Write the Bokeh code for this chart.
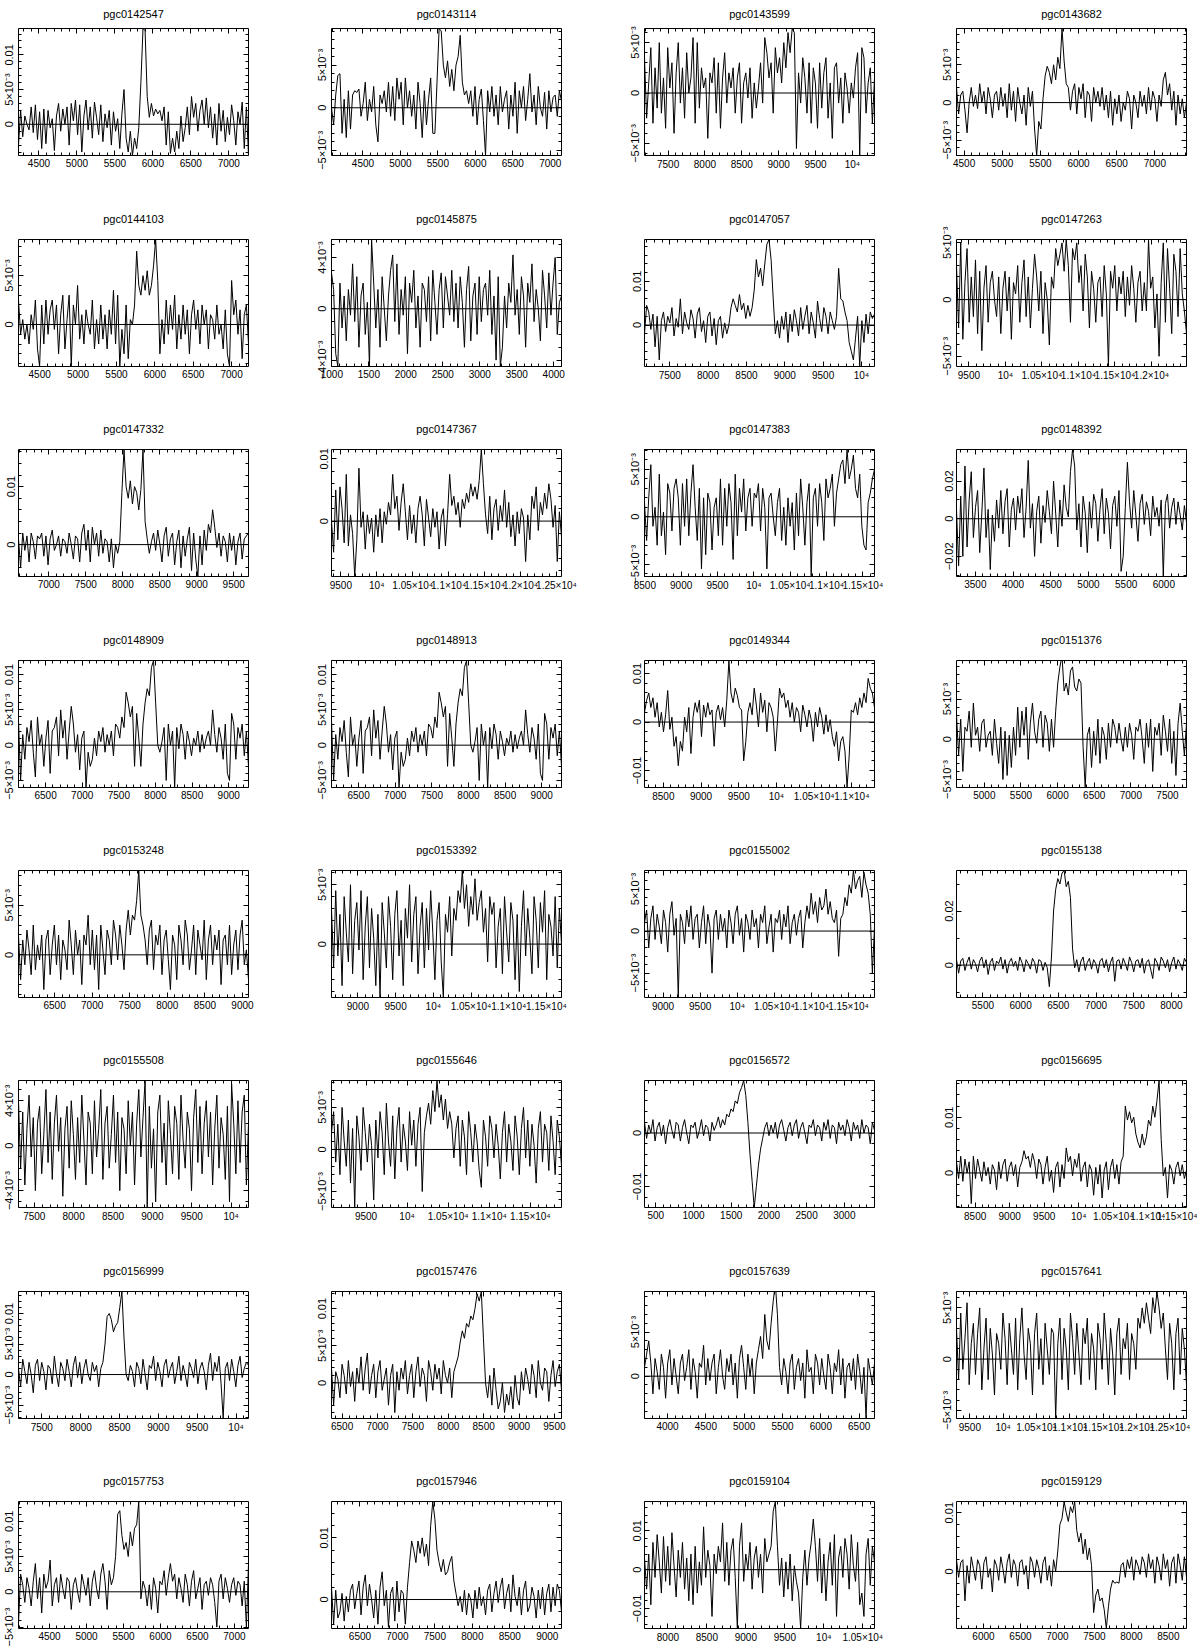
import math
from bokeh.plotting import figure
from bokeh.layouts import gridplot
from bokeh.models import LinearAxis, FixedTicker, Span, Range1d
from bokeh.embed import file_html
from bokeh.resources import INLINE

# ---------------- data ----------------
names = ["pgc0142547", "pgc0143114", "pgc0143599", "pgc0143682",
         "pgc0144103", "pgc0145875", "pgc0147057", "pgc0147263",
         "pgc0147332", "pgc0147367", "pgc0147383", "pgc0148392",
         "pgc0148909", "pgc0148913", "pgc0149344", "pgc0151376",
         "pgc0153248", "pgc0153392", "pgc0155002", "pgc0155138",
         "pgc0155508", "pgc0155646", "pgc0156572", "pgc0156695",
         "pgc0156999", "pgc0157476", "pgc0157639", "pgc0157641",
         "pgc0157753", "pgc0157946", "pgc0159104", "pgc0159129"]

# velocity window of each spectrum (km/s)
vel_lo = [4230, 4080, 7180, 4400, 4224, 995, 7170, 9330,
          6590, 9370, 8495, 3250, 6130, 6130, 8250, 4620,
          6020, 8650, 8750, 5150, 7300, 9080, 350, 8230,
          7200, 6350, 3700, 9300, 4080, 6120, 7700, 5635]
vel_hi = [7260, 7150, 10300, 7415, 7220, 4105, 10170, 12480,
          9700, 12570, 11660, 6300, 9270, 9270, 11300, 7760,
          9080, 11700, 11850, 8200, 10220, 11880, 3400, 11560,
          10160, 9600, 6700, 12750, 7190, 9190, 10650, 8745]

# flux axis limits (units of 1e-4 Jy)
flux_lo = [-45, -56, -62, -70, -43, -45, -95, -59,
           -55, -89, -63, -307, -60, -60, -135, -60,
           -43, -45, -79, -120, -55, -69, -139, -62,
           -72, -48, -48, -58, -52, -47, -151, -97]
flux_hi = [138, 93, 64, 98, 87, 54, 196, 53,
           164, 115, 71, 368, 120, 120, 127, 98,
           85, 62, 72, 350, 58, 82, 98, 166,
           136, 123, 96, 66, 128, 159, 175, 119]
flux_tick_step = [50, 50, 50, 50, 50, 40, 100, 50,
                  100, 100, 50, 200, 50, 50, 100, 50,
                  50, 50, 50, 200, 40, 50, 100, 100,
                  50, 50, 50, 50, 50, 100, 100, 100]

flux_labels = {-200: "\u22120.02", -100: "\u22120.01", -50: "\u22125\u00d710\u207b\u00b3",
               -40: "\u22124\u00d710\u207b\u00b3", 0: "0", 40: "4\u00d710\u207b\u00b3",
               50: "5\u00d710\u207b\u00b3", 100: "0.01", 200: "0.02"}
vel_labels = {10000: "10\u2074", 10500: "1.05\u00d710\u2074", 11000: "1.1\u00d710\u2074",
              11500: "1.15\u00d710\u2074", 12000: "1.2\u00d710\u2074", 12500: "1.25\u00d710\u2074"}

# spectra (flux in units of 1e-4 Jy, evenly spaced channels over the window)
flux_pgc0142547 = [-30, 20, -18, 12, 0, -8, 25, -12, 28, -22,
                   18, -35, 22, -28, 20, -5, 8, -38, 12, 30,
                   -10, 22, 0, 25, -30, 30, 5, 35, -15, 28,
                   -40, 12, 35, -8, 25, -20, 32, 10, -15, 28,
                   -25, 15, -5, 20, -30, 18, -10, 8, -35, 15,
                   50, -20, -40, -10, -45, -20, -35, -5, 60, 138,
                   135, 40, 10, 30, 12, 22, 15, 20, 5, 25,
                   -30, 18, -42, -20, -40, -10, -35, 12, -25, -5,
                   25, -15, 40, 10, 30, -10, 20, 35, 0, 38,
                   -5, 25, -20, 15, -30, 30, -10, 20, -25, 10,
                   -15, 28, 5, -30, 18, 0, 32, -35, 25, -45]
flux_pgc0143114 = [0, -20, 15, 38, 40, -30, 10, -35, 20, -25,
                   15, 20, 18, 22, -10, 5, 30, -15, 10, -5,
                   25, -20, -40, 15, 5, 20, -5, 30, -10, 25,
                   -15, 35, 10, 30, -20, 35, 0, 20, -10, 15,
                   -25, 30, 5, -35, 20, -20, 10, 35, -30, -30,
                   30, 93, 90, 50, 35, 55, 25, 45, 20, 50,
                   60, 85, 30, 15, 20, 5, 20, -10, 25, -20,
                   10, 22, -15, -56, 20, -5, 25, -10, 15, -20,
                   25, -5, 10, 20, -25, 15, -10, 30, -30, 20,
                   0, 25, -15, 10, 40, -5, 15, -20, 25, 0,
                   -10, 18, -25, 20, -5, 12, 15, -10, 20, 8]
flux_pgc0143599 = [35, -25, 10, 45, -30, 25, -15, 50, -20, 15,
                   -35, 45, 5, 30, -40, 20, 50, -10, 25, -25,
                   40, 0, 15, 55, -30, 50, -15, 25, 5, 15,
                   -45, 20, 10, 35, -20, 30, -35, 15, 40, -10,
                   20, 5, 25, -20, 15, 30, -30, 10, 20, -5,
                   25, -25, 10, -15, 5, 30, -10, 55, 40, 15,
                   30, -20, 45, 20, 35, 10, 50, 25, 60, 40,
                   64, 60, -55, 20, -10, 35, 15, -20, 30, -30,
                   25, 10, -35, 30, -15, 20, 35, -25, 10, -45,
                   25, 30, -10, 15, -30, 20, 5, -20, 10, -5,
                   25, 40, -62, 45, 35, -20, 10, 25, -30, 15]
flux_pgc0143682 = [20, -15, 10, 15, -10, -40, 0, 20, -5, 10,
                   -8, 25, 0, 15, -15, 20, 5, -20, 10, 15,
                   -10, 20, -5, 12, -20, 25, -10, 15, -25, 20,
                   0, -15, 10, -30, 20, -5, 15, -35, -70, -25,
                   -35, 5, 35, 48, 40, 25, 50, 30, 60, 45,
                   98, 55, 25, 20, -10, 15, 25, -15, 20, 5,
                   25, -20, 15, 10, -25, 20, 0, 15, -5, 20,
                   -10, 10, -20, 15, -30, 5, -15, 10, -25, 0,
                   -10, 15, 5, -35, 10, 0, -20, 15, -5, 10,
                   -15, 20, -10, 15, 5, -25, 10, -5, 30, 40,
                   10, 25, -10, 15, -30, 10, -15, 5, -20, 0]
flux_pgc0144103 = [25, -10, 5, -15, 0, -20, 10, -5, 25, -25,
                   -43, 20, -20, 25, -10, 15, 25, -5, 20, -30,
                   10, 30, -25, 5, 30, -43, 20, 0, 40, -15,
                   10, -20, 15, 0, -10, 25, -25, 5, -20, 20,
                   -15, 10, -25, 15, -10, 35, -20, 30, -43, -5,
                   -30, 20, -35, 5, 0, 20, 75, 40, 30, 50,
                   35, 55, 30, 40, 60, 87, 45, -30, 5, -20,
                   25, -10, 20, -5, 30, -25, 10, -15, 20, -10,
                   15, -30, 10, 25, -5, 15, -20, 20, 0, 15,
                   -25, 10, 5, -15, 20, -10, 0, -25, 15, -30,
                   -43, 45, 10, 25, -10, 15, -35, 10, 20, -20]
flux_pgc0145875 = [28, 15, -35, -45, 20, -15, 10, -25, 15, -5,
                   35, -10, 25, -30, 10, 20, -20, 5, -45, 54,
                   20, -15, 15, -30, 25, 0, -25, 10, 30, 42,
                   -10, 35, -20, 15, -5, 25, -35, 20, 5, 30,
                   -15, 10, -30, 20, 15, -10, 25, -25, 30, 5,
                   -20, 15, 28, -15, 25, 10, -5, 30, -10, 20,
                   -15, 25, 5, -30, 15, 33, -25, 10, 20, -20,
                   25, -10, 15, 20, -5, 30, -20, 10, -40, 25,
                   -45, -30, 10, -15, 20, 5, 42, -5, 15, -20,
                   25, 10, -30, 20, 5, 35, -10, 15, 0, -25,
                   30, 10, -15, 28, -5, 20, 40, -20, 5, 10]
flux_pgc0147057 = [-20, 45, 30, -10, 25, -50, 20, -80, 10, 30,
                   -15, 20, 5, 40, -25, 15, -5, 60, -20, 30,
                   5, -10, 35, 15, -30, 25, 40, -15, 10, -40,
                   20, 30, -25, 15, -45, 10, 20, -30, 5, -20,
                   0, 40, 60, 45, 30, 70, 35, 50, 15, 45,
                   20, 40, 80, 150, 110, 130, 90, 140, 185, 196,
                   150, 60, -20, 10, -30, 20, -10, 30, -40, 25,
                   -15, 35, 10, -25, 40, -10, 20, 45, -20, 30,
                   5, -30, 55, 15, -15, 40, 20, -20, 30, 10,
                   -10, 20, 130, 60, 55, 30, 10, -40, -60, -80,
                   -30, 20, -95, 10, -40, 25, -20, 30, 15, 25]
flux_pgc0147263 = [30, -25, 50, -35, 15, 45, -20, 20, -15, 35,
                   -30, 25, -45, 10, 30, -20, 15, 25, 0, -15,
                   20, -30, 10, 25, -10, 20, -35, 15, 5, 30,
                   -20, 15, 35, -15, 20, -25, 10, 40, 20, -10,
                   25, -30, 15, 0, -40, 20, 10, 45, 30, 40,
                   50, 25, 53, 30, -20, 45, 35, 50, 15, 30,
                   -10, 40, 20, -25, 25, 10, -20, 15, 20, -15,
                   30, 5, -59, 25, 10, 30, -10, 20, 5, 25,
                   -15, 20, -5, 30, 10, -20, 15, 25, -10, 15,
                   -10, 53, 10, 20, -25, 5, -50, 15, 50, -20,
                   45, 10, -30, 40, 25, -15, 45, 5, -10, -30]
flux_pgc0147332 = [10, -40, 20, -10, 15, -30, 20, 5, -25, 15,
                   10, 20, -20, 15, -35, 10, 25, -10, 0, 15,
                   -20, 10, 5, -15, 20, 0, -25, 15, 10, -30,
                   20, 35, -10, 25, -30, 30, 0, 20, -20, 25,
                   -15, 10, 5, -30, 10, -40, 0, -15, 5, 90,
                   164, 100, 80, 110, 70, 100, 90, 60, 95, 164,
                   40, 10, -15, 5, 20, -10, 25, 0, -30, 15,
                   30, -20, 10, 20, -35, 5, 25, -40, 15, -20,
                   10, 30, -45, 20, -25, -55, 15, -35, 25, -10,
                   35, 20, 60, 30, -5, 20, -20, 15, 5, -30,
                   20, -10, 15, -35, 5, 20, -25, 10, 15, 20]
flux_pgc0147367 = [0, -50, 50, -30, 55, 20, -35, 75, -40, 10,
                   -20, -89, -30, 85, -10, 15, -45, 10, -20, 5,
                   -50, 10, -25, 20, -35, 15, -5, 30, 10, 75,
                   20, 40, -15, 30, 60, 15, -30, 25, -20, 10,
                   -35, 20, 40, 10, -40, 35, 5, -25, 20, -10,
                   15, -45, 5, 20, -40, 10, 75, 25, 40, 10,
                   30, -10, 35, 20, 45, 30, 60, 40, 55, 35,
                   65, 115, 60, 10, -20, 40, -30, 20, 35, -15,
                   25, 0, 50, -10, 30, -25, 10, -40, 15, -20,
                   20, 5, -65, 10, -30, 40, 20, 55, -15, 30,
                   10, 45, 20, 60, 35, -10, 25, -65, 15, -25]
flux_pgc0147383 = [15, -25, 20, 55, -10, 10, -30, 45, -20, 5,
                   -40, 35, 25, -15, 30, 40, 20, -30, 35, -10,
                   40, -20, 25, 55, 10, -25, 30, -55, 20, -40,
                   25, 15, -35, 10, 20, -20, 40, -30, 30, -10,
                   35, 15, -45, 45, -20, 30, 5, 40, -15, 20,
                   30, -10, 25, 20, 35, -15, 30, 10, -55, 20,
                   25, 0, -20, 15, 30, -25, 10, -30, 20, -10,
                   15, -35, 25, -20, 40, 10, -30, 15, 35, -63,
                   20, 30, -10, 35, 15, -25, 40, 20, 30, 45,
                   -10, 25, 40, 55, 60, 35, 71, 40, 50, 65,
                   30, 20, 45, -10, -30, -35, 15, 25, 40, 50]
flux_pgc0148392 = [50, -250, 120, -200, 280, -150, 100, 250, -100, 60,
                   150, -180, 30, 270, -100, 50, -270, 20, -120, 100,
                   -50, 150, -80, 90, 160, -150, 50, 110, -60, 120,
                   30, 160, -100, 60, 310, -50, 80, -200, 40, 120,
                   -130, 70, -20, 150, 40, -80, 200, 30, -150, 100,
                   -40, 180, 60, 10, 250, 368, 280, -60, 80, -150,
                   120, 30, -180, 90, -50, 130, 80, -120, 50, 160,
                   -80, 110, 30, -160, 70, 120, -40, 150, -280, -200,
                   60, 300, 90, -50, 150, 20, -120, 80, 130, -30,
                   90, 40, -90, 120, 10, 60, -40, 100, -307, 80,
                   130, -50, 60, 110, -30, 90, 20, -60, 70, -20]
flux_pgc0148909 = [35, -50, 15, -20, 25, 5, 35, -10, -45, 40,
                   0, 15, -30, 10, 35, -40, 20, 25, 40, -15,
                   50, 10, 35, -20, 20, 55, 30, -10, 15, -35,
                   10, 20, -60, -10, -30, -20, 10, -15, 20, 5,
                   25, -10, 15, 0, 20, -15, 30, 25, 10, 40,
                   25, 75, 60, 40, 55, -30, 45, 10, -30, 30,
                   60, 80, 70, 110, 120, 60, 0, -10, 5, 25,
                   -50, 30, 0, 20, -60, 25, -5, 30, 15, -20,
                   20, 5, -15, 10, 0, 20, -10, 15, -5, 10,
                   20, 0, 50, 15, -10, 25, 10, -20, 30, -40,
                   -50, 45, 30, -20, 25, 10, 30, -15, 20, -30]
flux_pgc0148913 = list(flux_pgc0148909)
flux_pgc0149344 = [20, 45, 60, 30, 50, 10, 40, -10, 20, -20,
                   15, 65, -15, 10, -50, -30, -90, -40, -60, 10,
                   -20, 30, -65, 10, 40, 20, 45, -30, 35, 10,
                   40, 15, 25, -50, 20, 35, 5, 30, -10, 45,
                   127, 60, 40, 70, 55, 30, 25, -80, -40, 20,
                   40, 15, 70, 35, -10, 60, 20, 45, -20, 40,
                   30, 10, -60, 0, 70, 50, 60, 30, 45, 10,
                   40, 0, 30, 20, -20, 35, 15, -10, 25, 5,
                   -40, 20, -10, 30, 10, -25, 15, -20, 5, -30,
                   -50, -20, -80, -40, -30, -60, -135, -70, 25, 20,
                   40, 15, 50, 30, 60, 40, 90, 70, 60, 30]
flux_pgc0151376 = [30, -20, 25, -40, 15, 10, 35, -10, 45, 5,
                   15, -15, 20, 25, -10, 5, 10, -20, 25, -5,
                   -30, 15, -50, 10, -45, 5, -35, 15, -20, 40,
                   -10, 35, 5, 40, -25, 20, 45, 10, -5, 25,
                   35, -10, 30, 20, -15, 25, -10, 35, 70, 90,
                   104, 60, 70, 55, 85, 90, 65, 60, 75, 70,
                   -10, -60, 5, 15, -35, 10, -20, 25, -30, 15,
                   5, -25, 20, -10, 25, 15, -5, 20, 0, -15,
                   15, -10, 20, 5, -25, 15, 10, 25, 0, -30,
                   20, -10, 25, -40, 15, 5, 20, -20, 30, 10,
                   -15, 25, -30, 10, -45, 20, 45, 10, -20, 20]
flux_pgc0153248 = [20, -25, 15, -10, 25, 5, -20, 30, -15, 10,
                   -5, 20, -35, 15, 25, -20, 10, 30, -10, 20,
                   -25, 15, 5, -15, 35, 10, -20, 25, 0, 15,
                   -30, 20, 10, 40, -10, 25, -15, 20, -35, 30,
                   5, -20, 25, 15, -10, 35, 20, -5, 30, 10,
                   -15, 25, 45, 20, 40, 35, 55, 85, 40, 30,
                   15, -10, 25, 35, -15, 20, 10, 30, -20, 15,
                   25, -5, -35, 20, 10, -25, 30, 15, -10, 35,
                   20, -15, 5, 30, -20, 25, 10, -5, 35, -25,
                   15, 30, -10, 20, 5, 25, -30, 15, 20, -10,
                   30, -20, 10, 25, -15, 20, 35, -10, 5, -25]
flux_pgc0153392 = [30, -20, 45, -10, 25, -35, 40, 10, -15, 50,
                   -25, 20, 35, -5, 45, -30, 15, 40, -20, 30,
                   5, -35, 25, -45, 35, 10, -20, 40, 15, -30,
                   25, 45, -10, 20, -35, 30, 5, 50, -15, 25,
                   40, -25, 15, 35, -20, 30, -5, 45, 10, -30,
                   20, 35, -15, -45, 25, 10, 40, -10, 30, 20,
                   45, 35, 62, 30, 50, 15, 40, 25, 55, 20,
                   35, 45, 10, 30, -15, 40, 25, 35, -20, 15,
                   30, -25, 40, 10, -15, 35, 20, -30, 25, -40,
                   15, 45, -10, 30, 5, -25, 40, 20, -20, 35,
                   10, 45, -30, 25, 15, -10, 40, -20, 30, 0]
flux_pgc0155002 = [10, 25, -20, 15, 30, -10, 20, 5, -15, 25,
                   10, -25, 20, 35, -5, 15, -79, 20, 10, -15,
                   25, 5, 30, -10, 15, 20, -20, 10, 30, -15,
                   20, 5, -50, 15, 25, -10, 20, 0, 15, -20,
                   25, 10, -15, 20, 30, -5, 15, -25, 20, 10,
                   -10, 25, 5, 15, -20, 20, 10, 30, -15, 5,
                   20, -25, 15, 10, 25, -10, 20, 5, 30, -15,
                   10, 20, -5, 15, 25, -20, 10, 30, 15, 45,
                   20, 35, 10, 40, 25, 30, 50, 20, 35, 15,
                   10, 25, -30, 15, 20, 40, 30, 55, 45, 72,
                   50, 60, 65, 40, 70, 55, 45, 20, -50, 5]
flux_pgc0155138 = [20, -30, 15, 25, -20, 10, 30, -15, 20, 5,
                   -25, 15, 30, -10, 20, -35, 10, 25, -20, 15,
                   5, 30, -15, 20, -30, 10, 25, -5, 15, -20,
                   30, 10, -25, 20, 5, -15, 25, 10, -30, 20,
                   15, -20, 10, -10, -80, 30, 200, 280, 320, 300,
                   340, 350, 290, 310, 250, 60, -10, 20, -25, 15,
                   30, -20, 10, 25, -15, 20, 5, -30, 15, 25,
                   -10, 20, -25, 10, 30, -60, 15, 20, -15, 25,
                   5, -20, 30, 10, -25, 15, 20, -10, 25, -30,
                   10, 20, -15, -50, 25, 10, -20, 30, 15, -10,
                   20, -25, 10, 30, -15, 20, 5, -20, 25, 10]
flux_pgc0155508 = [40, -20, 30, -35, 15, 45, -10, 25, -40, 20,
                   35, -25, 10, 50, -15, 30, -30, 20, 45, -5,
                   25, -45, 15, 35, -20, 40, 10, -30, 25, -15,
                   45, 5, -35, 30, 20, -25, 40, -10, 15, 50,
                   -30, 20, 35, -20, 10, 45, -15, 30, -40, 25,
                   15, -25, 40, 0, 30, -35, 20, 50, -10, 25,
                   58, -55, 35, -20, 15, -50, 30, 45, -15, 20,
                   -35, 40, 10, -25, 35, 20, -30, 45, 5, -20,
                   30, 15, -40, 25, 50, -15, 35, -25, 20, 40,
                   -10, 30, -35, 15, 45, -20, 25, 10, -30, 35,
                   -50, 55, 20, -25, 40, -15, 30, 45, -35, 20]
flux_pgc0155646 = [20, 45, -15, 30, -30, 50, 10, -20, 35, -40,
                   25, -69, 40, 15, -25, 50, 20, -15, 30, 5,
                   -60, 35, -10, 45, 20, -30, 55, 10, -20, 40,
                   -35, 25, 50, -15, 30, 10, -25, 45, 5, 35,
                   -20, 30, 50, -50, 20, 40, 55, 30, 70, 45,
                   82, 50, 65, 35, 60, 25, 45, 30, -10, 25,
                   40, -20, 35, 15, -30, 45, 20, -15, 30, 10,
                   -25, -45, 35, 15, -20, 40, 25, -10, 30, 5,
                   -35, 20, 45, -15, 30, 10, -25, 40, 15, -30,
                   25, 50, -10, 35, -20, 30, 5, -40, 25, 45,
                   -15, 30, 20, -25, 40, 10, -30, 35, 15, -20]
flux_pgc0156572 = [20, -10, 15, 0, 25, -15, 10, 20, -5, 15,
                   -20, 10, 25, 5, -10, 20, 15, -15, 10, 25,
                   0, -20, 15, 10, 20, -10, 5, 25, -5, 15,
                   10, -15, 20, 5, 15, 30, 10, 25, 15, 35,
                   30, 45, 40, 60, 55, 75, 85, 98, 70, 20,
                   -40, -90, -139, -100, -60, -30, -10, 10, 20, -5,
                   15, 0, 20, -10, 15, 25, 5, -15, 10, 20,
                   -5, 15, 25, -10, 10, 20, 0, -20, 15, 10,
                   25, -5, 15, 10, -15, 20, 5, 25, -10, 15,
                   10, -20, 20, 5, 15, -5, 25, 10, -15, 20,
                   5, 15, -10, 25, 0, 15, 10, -20, 20, 5]
flux_pgc0156695 = [20, -10, 30, -15, 25, 0, 20, -55, 30, -10,
                   25, 5, -15, 20, -5, 10, -20, 15, 5, -30,
                   20, -10, 15, 25, -15, 10, 20, -5, 15, -25,
                   10, 20, 40, 25, 30, 10, 35, 20, -10, 25,
                   15, -20, 10, 30, -15, 5, -35, 10, 20, -25,
                   15, -10, 45, 20, 30, -5, 25, 10, 35, -15,
                   10, 20, -25, 15, 5, -40, 10, -20, 15, -45,
                   5, 20, -30, 10, 25, -10, 15, -20, 20, 30,
                   120, 95, 110, 90, 100, 70, 55, 45, 70, 50,
                   65, 95, 85, 120, 100, 130, 166, 60, -5, 10,
                   -45, 15, 5, -20, 10, 20, -5, 15, -10, 5]
flux_pgc0156999 = [10, -20, 25, 5, -15, 20, 0, -30, 15, 25,
                   -10, 20, 5, -25, 15, 10, -15, 30, 0, -20,
                   20, 10, -10, 25, 5, -20, 15, 30, -5, 20,
                   -15, 10, 25, 0, -10, 20, 5, 15, -20, 10,
                   20, 50, 95, 100, 90, 70, 80, 85, 110, 136,
                   60, 0, -10, 15, 5, -20, 20, 10, -15, 25,
                   0, -25, 15, 10, 30, -10, 20, 5, -20, 15,
                   25, -5, 10, 20, -15, 5, 30, -10, 15, 0,
                   -20, 20, 10, -5, 25, -15, 10, 20, 5, -25,
                   15, 35, -10, 20, 5, 30, -15, -72, 10, 20,
                   -10, 25, 5, -20, 15, 30, -5, 10, 20, 15]
flux_pgc0157476 = [20, -30, 15, 5, -20, 25, 10, -15, 30, -5,
                   15, -25, 20, 0, 35, -10, 20, 40, -15, 10,
                   25, -20, 15, 30, -10, 5, 20, -30, 10, 25,
                   -40, 15, -10, 20, 5, 30, -15, 10, 25, -20,
                   15, 35, -5, 20, 10, -25, 30, 15, -10, 25,
                   5, 20, -15, 30, 10, 0, 20, -20, 15, 25,
                   35, 55, 70, 60, 80, 75, 90, 85, 100, 120,
                   110, 123, 60, 0, -20, 10, -30, 20, -10, -35,
                   -25, 0, -40, -15, -30, -5, -35, 10, -20, -30,
                   15, -10, 20, 5, -15, 25, 10, -20, 30, 0,
                   -10, 20, 15, -25, 10, 30, -5, 15, 25, -10]
flux_pgc0157639 = [10, 25, 40, 15, -20, 20, 5, -15, 25, 10,
                   -25, 15, 30, -10, 20, 0, -20, 15, 25, -5,
                   10, 30, -15, 20, 5, -25, 15, 10, 35, -10,
                   20, -5, 15, 25, -20, 10, 30, 0, -15, 20,
                   5, 25, -10, 15, -25, 20, 35, 10, -15, 25,
                   0, 20, -20, 15, 30, 45, 20, 70, 40, 30,
                   60, 85, 105, 70, 10, -10, 20, 5, -20, 15,
                   25, -15, 10, 20, -5, 15, -25, 30, 5, 10,
                   -20, 25, 15, -10, 20, 0, -15, 25, 10, -20,
                   15, 5, 30, -10, 20, -25, 10, 15, -5, 20,
                   -15, 25, 5, -20, 10, -48, 20, 5, -10, 15]
flux_pgc0157641 = [30, -20, 45, -10, 20, 55, -25, 15, 35, -15,
                   25, 50, -30, 10, 40, -20, 30, 5, -35, 25,
                   15, -10, 45, 20, -25, 35, 10, -15, 40, -30,
                   20, 50, 5, -20, 30, 15, -35, 25, 45, -10,
                   20, -25, 35, 10, -15, 30, 25, -58, 15, 40,
                   -20, 30, 10, -30, 45, 20, -15, 35, 5, -25,
                   30, 15, 40, -20, 25, 10, -30, 35, 20, -10,
                   45, 15, -25, 30, 5, -35, 25, 40, -15, 20,
                   10, 35, -20, 25, 15, -10, 40, 30, 50, 35,
                   55, 40, 25, 60, 45, 66, 50, 30, 45, 10,
                   -20, 35, 15, -30, 25, 40, -15, 30, 10, -25]
flux_pgc0157753 = [-45, 25, 10, -15, 20, 5, -20, 15, 40, -10,
                   20, -30, 25, 5, 15, 45, -20, 10, 20, -15,
                   25, 5, -10, 20, 15, -25, 10, 20, 0, -15,
                   25, 10, -5, 20, -20, 15, 30, 5, -10, 25,
                   40, 15, -25, 30, 10, 20, 50, 110, 115, 80,
                   60, 70, 50, 85, 65, 90, 95, 128, -10, 15,
                   5, -20, 10, -25, 20, 5, -30, 15, 10, 30,
                   -5, 20, 40, 15, 25, -10, 20, 5, -15, 25,
                   10, -20, 15, 30, -10, 5, 20, -25, 10, 15,
                   -5, 20, 10, -15, -50, 15, 25, -10, 20, 5,
                   -15, 10, 20, -5, 15, 10, -20, 15, -50, 40]
flux_pgc0157946 = [20, -40, 15, -30, -20, 10, -35, 5, -20, 15,
                   25, -15, 10, 30, -25, 20, 40, -10, 25, 0,
                   -30, 15, -40, 20, 45, -10, 15, -45, 10, 20,
                   -35, 30, -20, 15, 10, -40, 20, 60, 95, 80,
                   60, 95, 75, 100, 70, 90, 55, 120, 159, 130,
                   80, 60, 45, 65, 40, 45, 60, 70, 30, 10,
                   -10, 5, -20, 15, -25, 10, 0, -30, 15, -15,
                   20, -10, 5, -25, 15, 25, -20, 10, 30, -5,
                   20, 35, -15, 10, 25, -20, 40, 5, -10, 20,
                   -25, 15, 30, -20, -10, 20, 5, -30, 15, -15,
                   20, -25, 10, 25, -20, 20, -10, 25, 15, -20]
flux_pgc0159104 = [30, -50, 40, -90, 70, -20, 90, 20, -60, 85,
                   -30, 60, -40, 95, 10, -70, 50, -20, 70, -50,
                   30, -80, 40, -90, 60, -60, 20, -40, 110, -20,
                   50, 10, -120, 40, -10, 60, 20, 120, -30, 70,
                   -40, 50, 80, -20, -151, 60, 120, -30, 40, 0,
                   70, -50, 30, 60, -20, 40, -60, 80, 20, 40,
                   60, 150, 175, 60, -40, 30, -70, 20, -50, 40,
                   -80, 10, -30, -60, -151, -20, 50, -40, 30, 70,
                   130, 60, -30, 80, -60, 40, -80, 20, 70, -40,
                   90, -120, 30, 60, -20, 80, 40, -50, 90, 10,
                   -30, 70, -90, -60, -120, 40, 80, -40, 60, 20]
flux_pgc0159129 = [20, -10, 15, 20, -50, 10, -20, 25, 5, -15,
                   20, 10, -30, 15, 25, -10, 5, -35, 20, 10,
                   -15, 25, 5, -20, 15, 30, -10, 20, 10, -25,
                   15, 20, -5, 10, -30, 25, 15, -10, 20, 5,
                   -20, 15, 25, -15, 10, -25, 20, 0, 35, 80,
                   90, 119, 100, 85, 110, 100, 119, 70, 50, 65,
                   30, 55, 20, 40, 10, -70, -40, -30, -50, -45,
                   -65, -97, -60, -30, -15, -20, -18, -20, 10, 15,
                   -10, 20, 5, 25, -15, 20, 10, -5, 25, 15,
                   -10, 30, 5, 20, -20, 25, 10, -15, 30, 5,
                   20, -25, 15, 25, -20, 30, 10, -15, 25, -10]

spectra = [flux_pgc0142547, flux_pgc0143114, flux_pgc0143599, flux_pgc0143682,
           flux_pgc0144103, flux_pgc0145875, flux_pgc0147057, flux_pgc0147263,
           flux_pgc0147332, flux_pgc0147367, flux_pgc0147383, flux_pgc0148392,
           flux_pgc0148909, flux_pgc0148913, flux_pgc0149344, flux_pgc0151376,
           flux_pgc0153248, flux_pgc0153392, flux_pgc0155002, flux_pgc0155138,
           flux_pgc0155508, flux_pgc0155646, flux_pgc0156572, flux_pgc0156695,
           flux_pgc0156999, flux_pgc0157476, flux_pgc0157639, flux_pgc0157641,
           flux_pgc0157753, flux_pgc0157946, flux_pgc0159104, flux_pgc0159129]

# ---------------- layout / style ----------------
FONT = "Liberation Sans"
FRAME_W, FRAME_H = 230, 127
LEFT = 18
COL_W = [313, 313, 312, 259]
ROW_H = [204, 210, 211, 210, 210, 211, 210, 180]
ROW_TOP = [28, 35, 35, 35, 35, 35, 35, 35]
NAME_GAP = [9, 15, 15, 15, 15, 15, 15, 15]
MINOR_OF = {50: 10, 40: 10, 100: 20, 200: 100}


def multiples(lo, hi, step):
    k0 = math.ceil(lo / step)
    k1 = math.floor(hi / step)
    return [k * step for k in range(k0, k1 + 1)]


def style_axis(ax, labels_on):
    ax.axis_line_color = None
    ax.major_tick_line_color = "black"
    ax.minor_tick_line_color = "black"
    ax.major_tick_in = 5
    ax.major_tick_out = 0
    ax.minor_tick_in = 3
    ax.minor_tick_out = 0
    ax.major_label_text_font = FONT
    if labels_on:
        ax.major_label_text_color = "black"
        ax.major_label_text_font_size = "10px"
        ax.major_label_standoff = 3
    else:
        ax.major_label_text_color = None
        ax.major_label_text_alpha = 0
        ax.major_label_text_font_size = "1px"
        ax.major_label_standoff = 0


def make_panel(i):
    col, row = i % 4, i // 4
    lo, hi = vel_lo[i], vel_hi[i]
    ylo, yhi = flux_lo[i], flux_hi[i]
    vals = spectra[i]
    n = len(vals)
    vel = [lo + (hi - lo) * k / (n - 1) for k in range(n)]

    top = ROW_TOP[row]
    p = figure(title=None, frame_width=FRAME_W, frame_height=FRAME_H,
               x_range=Range1d(lo, hi), y_range=Range1d(ylo, yhi),
               output_backend="svg", toolbar_location=None,
               min_border_left=LEFT, min_border_right=COL_W[col] - LEFT - FRAME_W,
               min_border_top=top, min_border_bottom=ROW_H[row] - top - FRAME_H,
               background_fill_color="white", border_fill_color="white")
    p.outline_line_color = "black"
    p.outline_line_width = 1
    p.xgrid.visible = False
    p.ygrid.visible = False

    xmaj = multiples(lo, hi, 500)
    xmin = multiples(lo, hi, 100)
    step = flux_tick_step[i]
    ymaj = multiples(ylo, yhi, step)
    ymin = multiples(ylo, yhi, MINOR_OF[step])
    xt = FixedTicker(ticks=xmaj, minor_ticks=xmin)
    yt = FixedTicker(ticks=ymaj, minor_ticks=ymin)

    xa = p.xaxis[0]
    xa.ticker = xt
    style_axis(xa, True)
    xa.major_label_overrides = {t: vel_labels.get(t, str(t)) for t in xmaj}

    ya = p.yaxis[0]
    ya.ticker = yt
    style_axis(ya, True)
    ya.major_label_text_font_size = "11px"
    ya.major_label_orientation = "vertical"
    ya.major_label_overrides = {t: flux_labels[t] for t in ymaj}

    # top axis: inward ticks only, carries the galaxy name as its label
    top_ax = LinearAxis(ticker=xt)
    style_axis(top_ax, False)
    top_ax.axis_label = names[i]
    top_ax.axis_label_standoff = NAME_GAP[row]
    top_ax.axis_label_text_font = FONT
    top_ax.axis_label_text_font_size = "11px"
    top_ax.axis_label_text_font_style = "normal"
    top_ax.axis_label_text_color = "black"
    p.add_layout(top_ax, "above")

    right_ax = LinearAxis(ticker=yt)
    style_axis(right_ax, False)
    p.add_layout(right_ax, "right")

    p.add_layout(Span(location=0, dimension="width", line_color="black", line_width=1))
    p.line(vel, vals, line_color="black", line_width=1)
    return p


figs = [make_panel(i) for i in range(len(names))]
grid = gridplot([figs[r * 4:(r + 1) * 4] for r in range(8)], toolbar_location=None)

open("out.html", "w").write(file_html(grid, INLINE))
